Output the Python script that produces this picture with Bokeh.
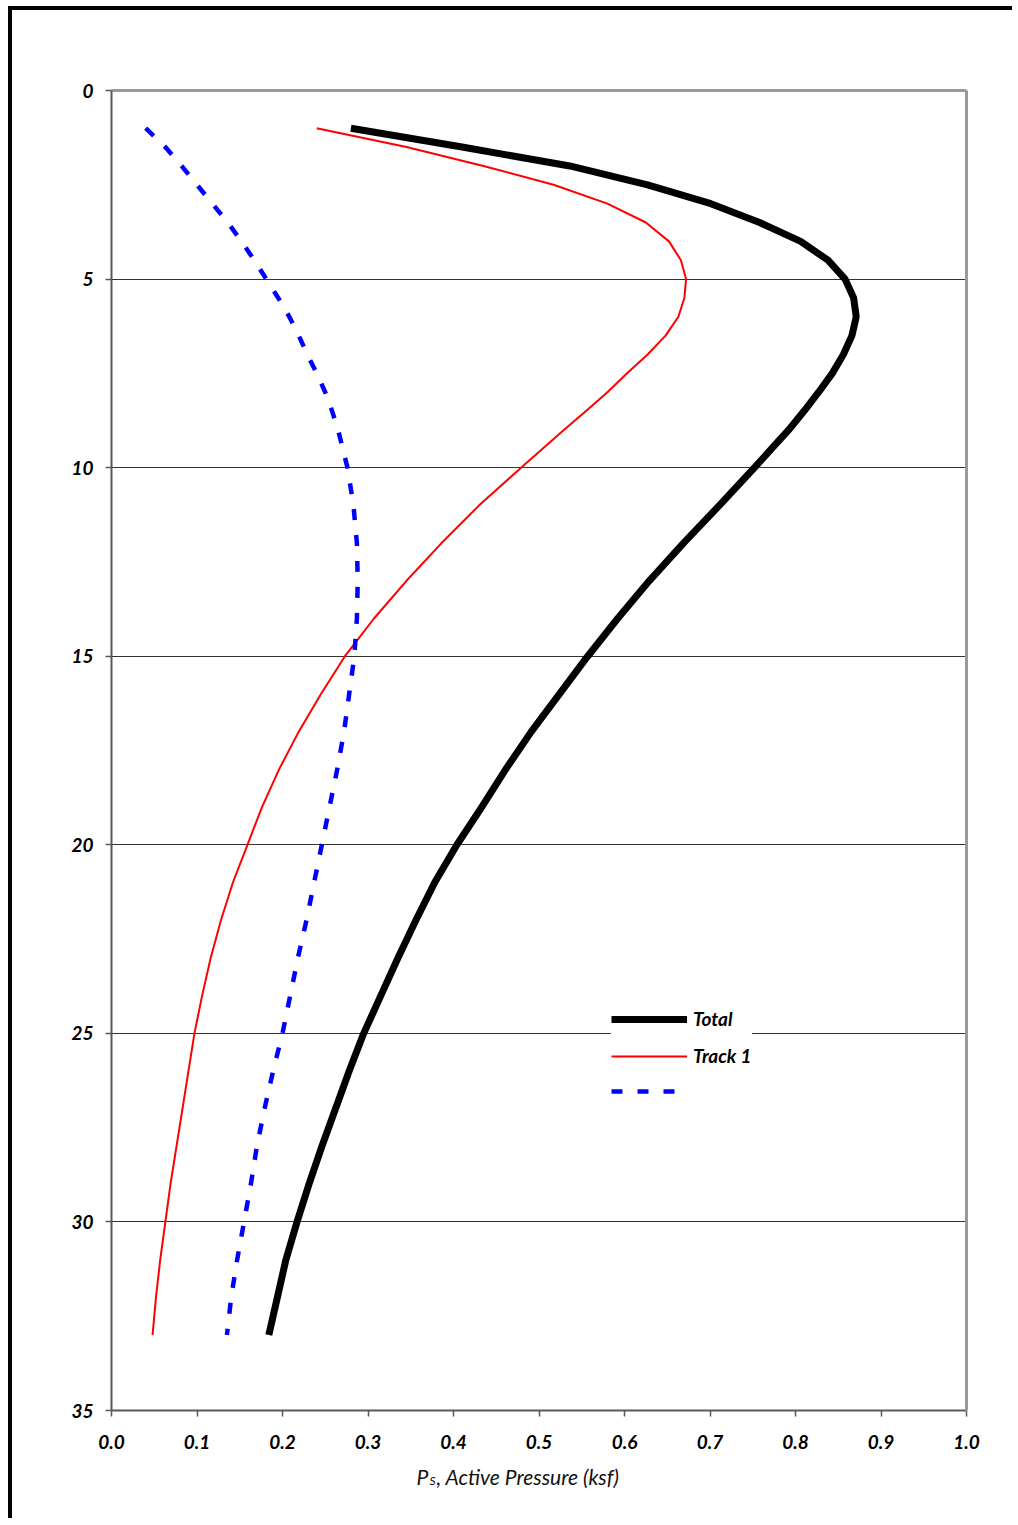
from bokeh.plotting import figure
from bokeh.models import (Range1d, FixedTicker, NumeralTickFormatter, LinearAxis,
                          Legend, LegendItem, Label)
from bokeh.embed import file_html
from bokeh.resources import INLINE

# ---- data ----
depth = [1, 1.5, 2, 2.5, 3, 3.5, 4, 4.5, 5, 5.5, 6, 6.5, 7, 7.5, 8, 8.5, 9,
         10, 11, 12, 13, 14, 15, 16, 17, 18, 19, 20, 21, 22, 23, 24, 25, 26,
         27, 28, 29, 30, 31, 32, 33]
total = [0.280, 0.410, 0.536, 0.627, 0.701, 0.758, 0.806, 0.838, 0.858, 0.868,
         0.871, 0.866, 0.856, 0.843, 0.827, 0.810, 0.792,
         0.752, 0.711, 0.669, 0.629, 0.592, 0.557, 0.524, 0.491, 0.461, 0.433,
         0.404, 0.378, 0.356, 0.335, 0.315, 0.295, 0.278, 0.262, 0.246, 0.231,
         0.217, 0.204, 0.194, 0.184]
track1 = [0.240, 0.345, 0.435, 0.517, 0.580, 0.625, 0.652, 0.666, 0.672, 0.670,
          0.663, 0.648, 0.627, 0.603, 0.580, 0.555, 0.529,
          0.479, 0.430, 0.386, 0.345, 0.307, 0.273, 0.245, 0.219, 0.196, 0.176,
          0.159, 0.142, 0.128, 0.116, 0.106, 0.097, 0.090, 0.083, 0.076, 0.069,
          0.063, 0.057, 0.052, 0.048]
track2 = [0.040, 0.063, 0.082, 0.100, 0.118, 0.136, 0.152, 0.167, 0.181, 0.195,
          0.208, 0.219, 0.229, 0.240, 0.250, 0.258, 0.265,
          0.276, 0.283, 0.287, 0.288, 0.287, 0.284, 0.278, 0.272, 0.264, 0.255,
          0.246, 0.237, 0.228, 0.218, 0.209, 0.200, 0.189, 0.179, 0.170, 0.163,
          0.155, 0.147, 0.140, 0.135]
series_labels = ["Total", "Track 1", ""]
x_ticks = [0.0, 0.1, 0.2, 0.3, 0.4, 0.5, 0.6, 0.7, 0.8, 0.9, 1.0]
y_ticks = [0, 5, 10, 15, 20, 25, 30, 35]
x_label_parts = ["P", "S", ", Active Pressure (ksf)"]

FONT = "Lato"
AX = "#595959"

p = figure(width=1004, height=1512, output_backend="svg", toolbar_location=None,
           x_range=Range1d(0, 1), y_range=Range1d(35, 0),
           min_border_left=99, min_border_right=50, min_border_top=80,
           min_border_bottom=112, background_fill_color="white",
           border_fill_color="white")
p.outline_line_color = None
p.styles = {"border-left": "4px solid black", "border-top": "4px solid black",
            "margin-left": "8px", "margin-top": "6px"}

# axes
for ax in (p.xaxis[0], p.yaxis[0]):
    ax.axis_line_color = AX
    ax.axis_line_width = 2
    ax.major_tick_line_color = AX
    ax.major_tick_line_width = 1.5
    ax.major_tick_in = 0
    ax.major_tick_out = 6
    ax.minor_tick_line_color = None
    ax.major_label_text_font = FONT
    ax.major_label_text_font_style = "bold italic"
    ax.major_label_text_font_size = "19px"
    ax.major_label_text_color = "black"

p.xaxis[0].ticker = FixedTicker(ticks=x_ticks)
p.xaxis[0].formatter = NumeralTickFormatter(format="0.0")
p.xaxis[0].major_label_standoff = 18
p.yaxis[0].ticker = FixedTicker(ticks=y_ticks)
p.yaxis[0].major_label_standoff = 12

for side in ("above", "right"):
    a = LinearAxis(ticker=FixedTicker(ticks=[]), axis_line_color="#999999",
                   axis_line_width=3, major_tick_line_color=None,
                   minor_tick_line_color=None, major_label_text_font_size="0px")
    p.add_layout(a, side)

p.xgrid.visible = False
p.ygrid.grid_line_color = "#333333"
p.ygrid.grid_line_width = 1

# series
r_total = p.line(total, depth, line_color="black", line_width=7, line_join="round")
r_t1 = p.line(track1, depth, line_color="#FF0000", line_width=2, line_join="round")
r_t2 = p.line(track2, depth, line_color="#0000FF", line_width=4.5,
              line_dash="11 15", line_join="round")

legend = Legend(items=[LegendItem(label=series_labels[0], renderers=[r_total]),
                       LegendItem(label=series_labels[1], renderers=[r_t1]),
                       LegendItem(label=series_labels[2], renderers=[r_t2])],
                location=(500, 309))
legend.label_text_font = FONT
legend.label_text_font_style = "bold italic"
legend.label_text_font_size = "19px"
legend.label_text_color = "black"
legend.glyph_width = 76
legend.glyph_height = 20
legend.label_height = 20
legend.label_standoff = 6
legend.spacing = 14
legend.padding = 8
legend.margin = 0
legend.border_line_color = None
legend.background_fill_color = "white"
legend.background_fill_alpha = 1.0
p.add_layout(legend)

# x axis label (P with subscript S), placed in the panel below the axis
lab_kw = dict(x_units="screen", y_units="screen", text_font=FONT,
              text_font_style="italic", text_baseline="middle", text_align="left",
              text_color="#111111")
p.add_layout(Label(x=305, y=0, text=x_label_parts[0], text_font_size="21px", **lab_kw), "below")
p.add_layout(Label(x=318, y=11, text=x_label_parts[1], text_font_size="12px", **lab_kw), "below")
p.add_layout(Label(x=325, y=40, text=x_label_parts[2], text_font_size="21px", **lab_kw), "below")

open("out.html", "w").write(file_html(p, INLINE))
